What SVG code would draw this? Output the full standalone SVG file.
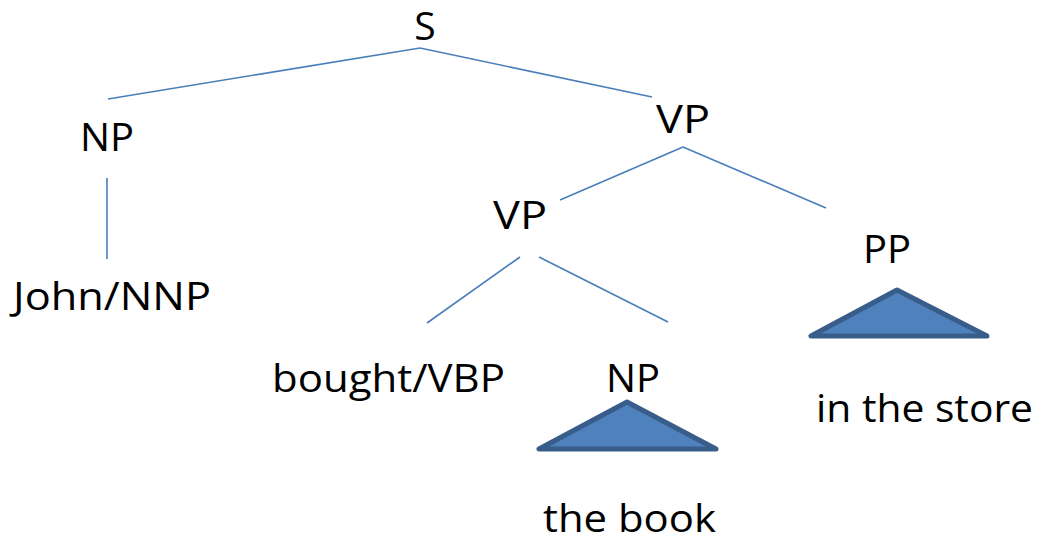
<svg xmlns="http://www.w3.org/2000/svg" width="1052" height="541" viewBox="0 0 1052 541">
  <style>
    .lbl { font-family: "Open Sans", "Noto Sans", "Liberation Sans", sans-serif; font-size: 39px; fill: #000; }
    .edge { stroke: #4a7ebb; stroke-width: 1.6; fill: none; }
    .tri { fill: #4f81bd; stroke: #385d8a; stroke-width: 5; stroke-linejoin: round; }
  </style>
  <rect width="1052" height="541" fill="#fff"/>
  <g id="connectors">
    <line class="edge" x1="108" y1="99" x2="420" y2="48"/>
    <line class="edge" x1="420" y1="48" x2="652" y2="97"/>
    <line class="edge" x1="107" y1="178" x2="107" y2="259"/>
    <line class="edge" x1="683" y1="147" x2="560" y2="200"/>
    <line class="edge" x1="683" y1="147" x2="826" y2="208"/>
    <line class="edge" x1="520" y1="257" x2="427" y2="323"/>
    <line class="edge" x1="539" y1="257" x2="668" y2="322"/>
  </g>
  <g id="node-s"><text class="lbl" x="425" y="40" text-anchor="middle">S</text></g>
  <g id="node-np"><text class="lbl" x="107" y="151" text-anchor="middle" textLength="54" lengthAdjust="spacingAndGlyphs">NP</text></g>
  <g id="node-vp-top"><text class="lbl" x="683" y="133" text-anchor="middle" textLength="54" lengthAdjust="spacingAndGlyphs">VP</text></g>
  <g id="node-john"><text class="lbl" x="13" y="310" textLength="198" lengthAdjust="spacingAndGlyphs">John/NNP</text></g>
  <g id="node-vp-low"><text class="lbl" x="520" y="229" text-anchor="middle" textLength="54" lengthAdjust="spacingAndGlyphs">VP</text></g>
  <g id="node-pp">
    <text class="lbl" x="887" y="263" text-anchor="middle" textLength="48" lengthAdjust="spacingAndGlyphs">PP</text>
    <polygon class="tri" points="897,290 811,336 987,336"/>
  </g>
  <g id="node-bought"><text class="lbl" x="272" y="392" textLength="233" lengthAdjust="spacingAndGlyphs">bought/VBP</text></g>
  <g id="node-np-obj">
    <text class="lbl" x="633" y="392" text-anchor="middle" textLength="54" lengthAdjust="spacingAndGlyphs">NP</text>
    <polygon class="tri" points="627,402 539,449 716,449"/>
  </g>
  <g id="leaf-store"><text class="lbl" x="816" y="422" textLength="217" lengthAdjust="spacingAndGlyphs">in the store</text></g>
  <g id="leaf-book"><text class="lbl" x="543" y="532" textLength="173" lengthAdjust="spacingAndGlyphs">the book</text></g>
</svg>
